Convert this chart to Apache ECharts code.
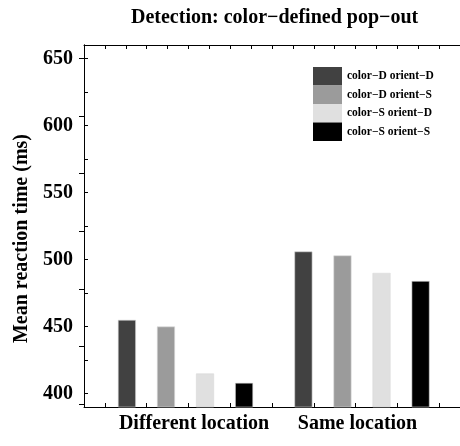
<!DOCTYPE html>
<html>
<head>
<meta charset="utf-8">
<script src="https://cdn.jsdelivr.net/npm/echarts@6/dist/echarts.min.js"></script>
<style>html,body{margin:0;padding:0;background:#fff;}#c{width:460px;height:446px;}</style>
</head>
<body>
<div id="c"></div>
<script>
var categories = ['Different location', 'Same location'];
var seriesNames = ['color\u2212D orient\u2212D', 'color\u2212D orient\u2212S', 'color\u2212S orient\u2212D', 'color\u2212S orient\u2212S'];
var colorDorientD = [455, 506];
var colorDorientS = [450, 503];
var colorSorientD = [415, 490];
var colorSorientS = [408, 484];
var yLabelValues = [400, 450, 500, 550, 600, 650];
var yTickValues = [400, 425, 450, 475, 500, 525, 550, 575, 600, 625, 650];
var rightTickValues = [392, 435, 478, 521, 564, 607, 650];
var bottomTickValues = [1, 3, 5, 7, 9, 11, 13, 15, 17];
var topTickValues = [1, 2, 3, 4, 5, 6, 7, 8, 9, 10, 11, 12, 13, 14, 15, 16, 17];
var yMin = 390, yMax = 660;

var values = [colorDorientD, colorDorientS, colorSorientD, colorSorientS];
var colors = ['#414141', '#9b9b9b', '#e0e0e0', '#000000'];
var FONT = 'Liberation Serif';

var chart = echarts.init(document.getElementById('c'), null, {renderer: 'canvas'});
var line = {show: true, lineStyle: {color: '#000', width: 1}};
var option = {
  animation: false,
  backgroundColor: '#fff',
  title: {
    text: 'Detection: color\u2212defined pop\u2212out',
    left: 126, top: 3,
    textStyle: {fontFamily: FONT, fontWeight: 'bold', fontSize: 20, color: '#000'}
  },
  legend: {
    orient: 'vertical',
    left: 308, top: 62,
    itemWidth: 29, itemHeight: 18.5, itemGap: 0,
    icon: 'rect',
    itemStyle: {borderWidth: 0},
    data: seriesNames,
    textStyle: {fontFamily: FONT, fontWeight: 'bold', fontSize: 11.5, color: '#000'}
  },
  grid: [
    {left: 84, top: 45, width: 378, height: 362},
    {left: 97.25, top: 45, width: 353, height: 362}
  ],
  xAxis: [
    {type: 'value', gridIndex: 0, position: 'bottom', min: 0, max: 18,
     axisLine: line, splitLine: {show: false}, axisLabel: {show: false},
     axisTick: {show: true, inside: true, length: 4, lineStyle: {color: '#000'}, customValues: bottomTickValues}},
    {type: 'value', gridIndex: 0, position: 'top', min: 0, max: 18,
     axisLine: line, splitLine: {show: false}, axisLabel: {show: false},
     axisTick: {show: true, inside: true, length: 4, lineStyle: {color: '#000'}, customValues: topTickValues}},
    {type: 'category', gridIndex: 1, data: categories,
     axisLine: {show: false}, axisTick: {show: false}, splitLine: {show: false},
     axisLabel: {
       margin: 7,
       formatter: function (v, i) { return i === 0 ? '{a|' + v + '}' : '{b|' + v + '}'; },
       rich: {
         a: {fontFamily: FONT, fontWeight: 'bold', fontSize: 20, color: '#000', padding: [0, 0, 0, 17]},
         b: {fontFamily: FONT, fontWeight: 'bold', fontSize: 20, color: '#000', padding: [0, 9, 0, 0]}
       }
     }}
  ],
  yAxis: [
    {type: 'value', gridIndex: 0, position: 'left', min: yMin, max: yMax,
     name: 'Mean reaction time (ms)', nameLocation: 'middle', nameRotate: 90, nameGap: 50,
     nameTextStyle: {fontFamily: FONT, fontWeight: 'bold', fontSize: 20, color: '#000', padding: [0, 25, 0, 0]},
     axisLine: line, splitLine: {show: false},
     axisTick: {show: true, inside: true, length: 4, lineStyle: {color: '#000'}, customValues: yTickValues},
     axisLabel: {customValues: yLabelValues, margin: 11, fontFamily: FONT, fontWeight: 'bold', fontSize: 20, color: '#000'}},
    {type: 'value', gridIndex: 0, position: 'right', min: yMin, max: yMax,
     axisLine: line, splitLine: {show: false}, axisLabel: {show: false},
     axisTick: {show: true, inside: true, length: 5, lineStyle: {color: '#000'}, customValues: rightTickValues}},
    {type: 'value', gridIndex: 1, min: yMin, max: yMax, show: false, splitLine: {show: false}}
  ],
  series: seriesNames.map(function (n, k) {
    return {
      name: n, type: 'bar', xAxisIndex: 2, yAxisIndex: 2,
      data: values[k],
      barWidth: 18, barGap: '117%',
      itemStyle: {color: colors[k], borderColor: '#d8d8d8', borderWidth: 0.6}
    };
  })
};
chart.setOption(option);
</script>
</body>
</html>
